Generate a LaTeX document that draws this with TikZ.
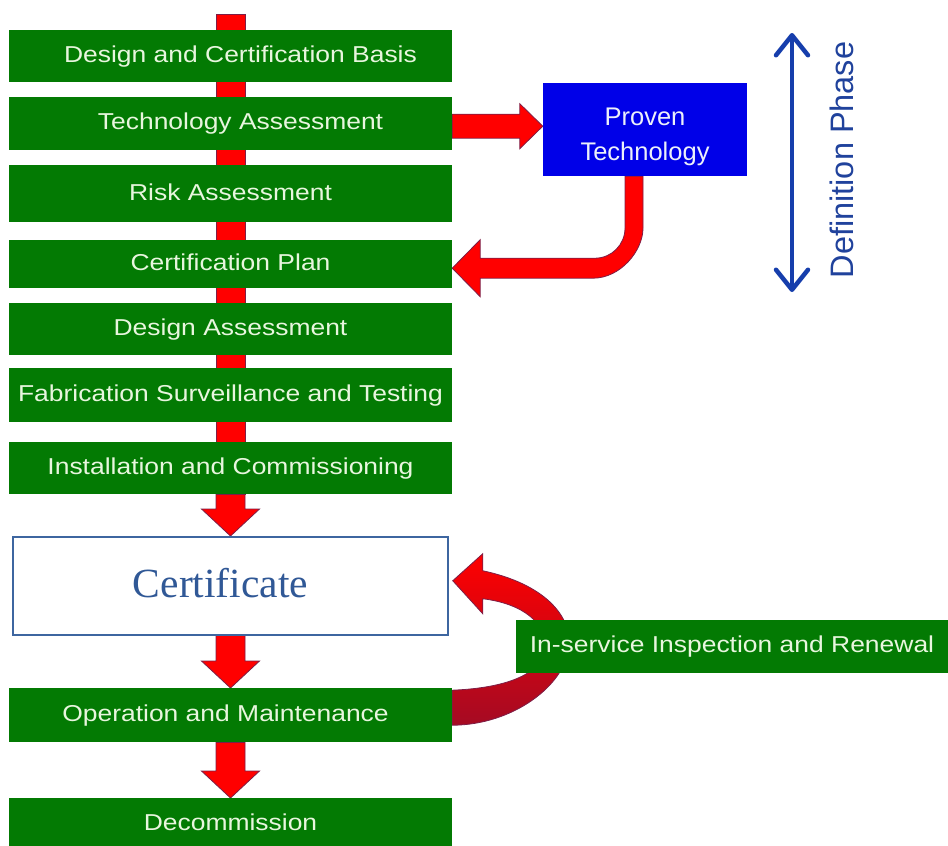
\documentclass[tikz,border=0pt]{standalone}
\usepackage{fontspec}
\setmainfont{Liberation Sans}
\newfontfamily\boxfont[FakeStretch=1.15]{Liberation Sans}
\newfontfamily\plainsans{Liberation Sans}
\newfontfamily\certfont{Liberation Serif}
\usetikzlibrary{calc,arrows.meta,backgrounds}
\definecolor{boxgreen}{RGB}{3,122,3}
\definecolor{boxtext}{RGB}{232,246,222}
\definecolor{ptblue}{RGB}{0,0,232}
\definecolor{pttext}{RGB}{236,240,250}
\definecolor{arrowred}{RGB}{255,0,0}
\definecolor{arrowdark}{RGB}{165,10,35}
\definecolor{arrowedge}{RGB}{125,30,70}
\definecolor{defblue}{RGB}{22,62,172}
\definecolor{deftext}{RGB}{32,66,156}
\definecolor{certedge}{RGB}{62,102,160}
\definecolor{certtext}{RGB}{48,88,150}
\tikzset{
  greenbox/.style={fill=boxgreen, text=boxtext, minimum width=443pt, inner sep=0pt,
    font=\boxfont\fontsize{23}{27}\selectfont, anchor=north,
    execute at begin node=\rule[-4pt]{0pt}{21pt}},
  redblock/.style={fill=arrowred, draw=arrowedge, line width=0.8pt, line join=miter},
  defarrow/.style={draw=defblue, line width=4.5pt,
    {Straight Barb[length=20pt,width=32pt,line cap=round,line join=round]}-{Straight Barb[length=20pt,width=32pt,line cap=round,line join=round]}},
}
\newcommand{\blockdown}[2]{%
  \path[redblock] let \p1=(#1.south), \p2=(#2.north) in
    (\x1-14.5pt,\y1) -- (\x1-14.5pt,\y2+27pt) -- (\x1-29pt,\y2+27pt) -- (\x1,\y2)
    -- (\x1+29pt,\y2+27pt) -- (\x1+14.5pt,\y2+27pt) -- (\x1+14.5pt,\y1) -- cycle;}
\begin{document}
\begin{tikzpicture}[x=1pt,y=-1pt]
\useasboundingbox (0,0) rectangle (948,846);
\coordinate (topc) at (230.5,14);
\node[greenbox, minimum height=52pt] (b1) at (230.5,30) {\hspace*{20pt}Design and Certification Basis};
\node[greenbox, minimum height=53pt] (b2) at (230.5,97) {\hspace*{20pt}Technology Assessment};
\node[greenbox, minimum height=57pt] (b3) at (230.5,165) {Risk Assessment};
\node[greenbox, minimum height=48pt] (b4) at (230.5,240) {Certification Plan};
\node[greenbox, minimum height=52pt] (b5) at (230.5,303) {Design Assessment};
\node[greenbox, minimum height=54pt] (b6) at (230.5,368) {Fabrication Surveillance and Testing};
\node[greenbox, minimum height=52pt] (b7) at (230.5,442) {Installation and Commissioning};
\node[draw=certedge, line width=1.5pt, fill=white, minimum width=435pt, minimum height=98pt,
  anchor=north, text=certtext, font=\certfont\fontsize{41.5}{46}\selectfont] (cert) at (230.5,536)
  {\hspace*{-20pt}\rule[-6pt]{0pt}{1pt}Certificate};
\node[greenbox, minimum height=54pt] (op) at (230.5,688) {Operation and Maintenance\hspace*{10pt}};
\node[greenbox, minimum height=52pt] (dec) at (230.5,798) {Decommission};
\node[fill=ptblue, text=pttext, minimum width=204pt, minimum height=93pt, inner sep=0pt,
  align=center, font=\plainsans\fontsize{25.5}{35}\selectfont] (pt) at (645,129.5)
  {\rule{0pt}{32pt}Proven\\Technology};
\node[greenbox, anchor=center, minimum width=432pt, minimum height=53pt] (isr) at (732,646.5)
  {In-service Inspection and Renewal};
\coordinate (dtop) at (792,33);
\coordinate (dbot) at (792,292);
\draw[defarrow] (dtop) -- (dbot);
\node[rotate=90, inner sep=0pt, text=deftext, font=\plainsans\fontsize{32.5}{36}\selectfont] (dp) at (841.5,160) {Definition Phase};
\begin{scope}[on background layer]
  % spine behind the top boxes
  \path[redblock] let \p1=(topc), \p2=(b7.south) in
    (\x1-14.5pt,\y1) rectangle (\x1+14.5pt,\y2);
  \blockdown{b7}{cert}
  \blockdown{cert}{op}
  \blockdown{op}{dec}
  % Technology Assessment -> Proven Technology
  \path[redblock] let \p1=(b2.east), \p2=(pt.west) in
    (\x1,\y1+9.5pt) -- (\x2-23pt,\y1+9.5pt) -- (\x2-23pt,\y1+20pt) -- (\x2,\y1-2.5pt)
    -- (\x2-23pt,\y1-25pt) -- (\x2-23pt,\y1-14.5pt) -- (\x1,\y1-14.5pt) -- cycle;
  % Proven Technology -> Certification Plan
  \path[redblock] let \p1=(pt.south), \p2=(b4.east) in
    (\x1-20pt,\y1) -- (\x1-20pt,\y2+36pt)
    .. controls (\x1-20pt,\y2+19.5pt) and (\x1-33.5pt,\y2+6pt) .. (\x1-50pt,\y2+6pt)
    -- (\x2+28pt,\y2+6pt) -- (\x2+28pt,\y2+24.5pt) -- (\x2,\y2-4pt)
    -- (\x2+28pt,\y2-32.5pt) -- (\x2+28pt,\y2-14pt) -- (\x1-52pt,\y2-14pt)
    .. controls (\x1-24.5pt,\y2-14pt) and (\x1-2pt,\y2+13.5pt) .. (\x1-2pt,\y2+36pt)
    -- (\x1-2pt,\y1) -- cycle;
  % Operation and Maintenance -> Certificate (loop)
  \path[draw=arrowedge, line width=0.8pt, top color=arrowred, middle color=arrowred, bottom color=arrowdark]
    ($(cert.east)+(34,-15)$)
    .. controls ($(cert.east)+(95,-2)$) and ($(cert.east)+(124,30)$) .. ($(cert.east)+(120,62)$)
    .. controls ($(cert.east)+(116,100)$) and ($(op.east)+(60,10)$) .. ($(op.east)+(0,10)$)
    -- ($(op.east)+(0,-25)$)
    .. controls ($(op.east)+(50,-27)$) and ($(cert.east)+(94,90)$) .. ($(cert.east)+(96,62)$)
    .. controls ($(cert.east)+(98,38)$) and ($(cert.east)+(75,18)$) .. ($(cert.east)+(34,13)$)
    -- ($(cert.east)+(34,28)$) -- ($(cert.east)+(4,-5)$) -- ($(cert.east)+(34,-32)$) -- cycle;
\end{scope}
\end{tikzpicture}
\end{document}
